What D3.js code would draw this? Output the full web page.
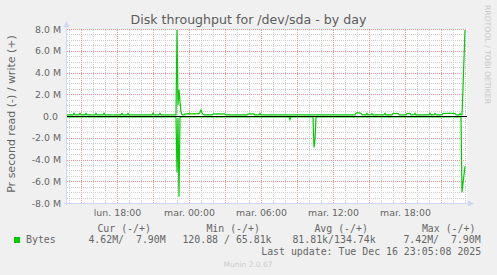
<!DOCTYPE html>
<html>
<head>
<meta charset="utf-8">
<script src="https://cdn.jsdelivr.net/npm/d3@7"></script>
<style>
html, body { margin: 0; padding: 0; background: #f0f0f0; }
svg { display: block; }
text { font-family: "DejaVu Sans", sans-serif; fill: #666; }
.mono { font-family: "DejaVu Sans Mono", monospace; white-space: pre; }
</style>
</head>
<body>
<svg width="497" height="275"></svg>
<script>
// tick labels (rrdtool / munin, french locale)
const timeLabels = ['lun. 18:00', 'mar. 00:00', 'mar. 06:00', 'mar. 12:00', 'mar. 18:00'];
const yTicks = [-8000, -6000, -4000, -2000, 0, 2000, 4000, 6000, 8000];
const yTickLabels = ['-8.0 M', '-6.0 M', '-4.0 M', '-2.0 M', '0.0 ', '2.0 M', '4.0 M', '6.0 M', '8.0 M'];

// 5 minute samples, kB/s
const writeKB = [
    110,100,95,105,120,100,90,260,110,100,95,105,100,250,100,95,110,100,105,240,
    100,95,110,105,100,90,100,110,105,250,100,95,100,110,100,105,95,260,100,110,
    100,95,105,110,100,95,90,100,105,110,100,95,100,105,110,250,100,95,100,105,
    110,240,100,95,105,100,110,100,95,100,105,100,110,95,100,105,100,95,110,100,
    100,105,95,100,110,100,260,105,100,95,100,110,100,250,100,95,105,100,110,100,
    105,100,95,110,100,105,100,95,100,110,7900,1000,2400,1300,400,120,100,110,200,180,
    200,190,210,200,195,205,200,210,190,200,205,210,200,350,550,300,150,120,110,100,
    105,100,110,95,100,105,180,200,190,170,200,180,190,200,180,170,190,200,180,110,
    100,105,95,100,110,100,95,105,100,110,100,95,105,100,110,100,95,100,105,110,
    105,180,200,190,170,200,190,180,110,100,105,95,100,240,100,105,110,100,95,100,
    105,100,110,95,100,105,100,110,100,95,105,100,110,100,95,105,100,110,100,105,
    100,95,105,100,110,100,95,100,105,110,100,95,105,100,110,100,95,105,100,110,
    100,105,95,100,110,100,105,100,95,100,110,105,100,95,105,100,110,100,95,105,
    100,110,105,95,100,105,110,100,95,105,100,110,100,105,95,100,110,100,105,100,
    95,105,110,100,105,100,95,110,100,270,280,290,280,270,250,110,100,105,95,100,
    240,100,105,95,110,230,100,105,100,95,110,100,105,100,95,105,100,110,240,100,
    105,100,95,110,100,105,230,240,220,230,240,220,110,100,95,105,100,110,100,105,
    230,220,240,230,105,100,95,110,240,100,105,100,110,95,100,105,100,110,100,95,
    105,100,110,240,100,105,95,100,230,110,100,105,95,100,110,100,240,230,250,240,
    230,250,240,260,230,240,250,230,240,110,100,105,110,230,110,120,2600,5300,7900
];
const readKB = [
    80,75,85,90,80,70,75,85,80,90,75,80,85,70,80,90,75,80,85,80,
    75,85,80,90,70,80,85,75,80,90,85,80,75,70,85,80,90,75,80,85,
    80,75,90,85,80,70,75,85,80,90,75,80,85,70,80,90,75,80,85,80,
    85,80,75,90,80,85,70,80,75,85,90,80,75,85,80,70,85,80,90,75,
    80,85,75,80,90,70,80,85,75,80,85,90,75,80,70,85,80,75,90,80,
    80,75,90,85,80,75,80,90,85,100,5200,200,7420,150,100,80,85,90,80,75,
    85,80,75,90,80,85,70,80,75,85,90,80,75,85,80,70,85,80,90,75,
    80,85,75,80,90,70,80,85,75,80,85,90,75,80,70,85,80,75,90,80,
    75,85,80,90,70,80,85,75,80,90,85,80,75,70,85,80,90,75,80,85,
    80,75,90,85,80,70,75,85,80,90,75,80,85,70,80,90,75,80,85,80,
    85,80,75,90,80,85,70,80,75,85,90,80,75,85,80,70,85,80,90,75,
    80,85,75,320,90,70,80,85,75,80,85,90,75,80,70,85,80,75,90,80,
    75,85,80,90,70,80,85,2900,2200,100,85,80,75,70,85,80,90,75,80,85,
    80,75,90,85,80,70,75,85,80,90,75,80,85,70,80,90,75,80,85,80,
    85,80,75,90,80,85,70,80,75,85,90,80,75,85,80,70,85,80,90,75,
    80,85,75,80,90,70,80,85,75,80,85,90,75,80,70,85,80,75,90,80,
    75,85,80,90,70,80,85,75,80,90,85,80,75,70,85,80,90,75,80,85,
    80,75,90,85,80,70,75,85,80,90,75,80,85,70,80,90,75,80,85,80,
    85,80,75,90,80,85,70,80,75,85,90,80,75,85,80,70,85,80,90,75,
    80,85,75,80,90,70,80,85,75,80,85,90,75,80,85,7000,6200,5400,4620
];

const legendHeads = ['Cur (-/+)', 'Min (-/+)', 'Avg (-/+)', 'Max (-/+)'];
const legendValues = ['4.62M/  7.90M', '120.88 / 65.81k', '81.81k/134.74k', '7.42M/  7.90M'];
const seriesName = 'Bytes';

const start = new Date(2025, 11, 15, 13, 50);
const step = 5 * 60 * 1000;
const end = new Date(+start + 400 * step);

const pLeft = 67, pRight = 467, pTop = 29, pBottom = 203;
const green = '#00cc00';

const svg = d3.select('svg');

const x = d3.scaleTime().domain([start, end]).range([pLeft, pRight]);
const y = d3.scaleLinear().domain([-8000, 8000]).range([pBottom, pTop]);

// canvas
svg.append('rect')
    .attr('x', pLeft).attr('y', pTop)
    .attr('width', pRight - pLeft).attr('height', pBottom - pTop)
    .attr('fill', '#fff');

// grids, minor first then major over it
function grid(color, xTicks, yVals) {
    const gx = svg.append('g').attr('transform', `translate(0,${pBottom})`)
        .call(d3.axisBottom(x).tickValues(xTicks).tickSize(-(pBottom - pTop)).tickFormat(''));
    const gy = svg.append('g').attr('transform', `translate(${pLeft},0)`)
        .call(d3.axisLeft(y).tickValues(yVals).tickSize(-(pRight - pLeft)).tickFormat(''));
    [gx, gy].forEach(g => {
        g.select('.domain').remove();
        g.selectAll('line')
            .attr('stroke', color)
            .attr('stroke-dasharray', '1,1')
            .attr('shape-rendering', 'crispEdges');
    });
}
grid('#cccccc', x.ticks(d3.timeHour.every(1)), d3.range(-8000, 8001, 500));
grid('#ee9494', x.ticks(d3.timeHour.every(3)), yTicks);

// tick labels
const xAxis = svg.append('g').attr('transform', `translate(0,${pBottom})`)
    .call(d3.axisBottom(x).tickValues(x.ticks(d3.timeHour.every(6)))
        .tickSize(0).tickPadding(6).tickFormat((d, i) => timeLabels[i]));
const yAxis = svg.append('g').attr('transform', `translate(${pLeft - 0.5},0)`)
    .call(d3.axisLeft(y).tickValues(yTicks)
        .tickSize(0).tickPadding(5.5).tickFormat((d, i) => yTickLabels[i]));
[xAxis, yAxis].forEach(g => {
    g.select('.domain').remove();
    g.attr('font-family', null).attr('font-size', null);
    g.selectAll('text')
        .style('font-size', '9.4px')
        .style('white-space', 'pre')
        .attr('fill', '#666');
});

// data lines
const line = d3.line()
    .x((d, i) => x(new Date(+start + i * step)))
    .y(d => y(d));

svg.append('path').datum(readKB.map(v => -v))
    .attr('d', line).attr('fill', 'none')
    .attr('stroke', green).attr('stroke-width', 1.2);
svg.append('path').datum(writeKB)
    .attr('d', line).attr('fill', 'none')
    .attr('stroke', green).attr('stroke-width', 1.2);

// zero rule
svg.append('line')
    .attr('x1', pLeft).attr('x2', pRight)
    .attr('y1', Math.round(y(0)) + 0.5).attr('y2', Math.round(y(0)) + 0.5)
    .attr('stroke', '#000').attr('shape-rendering', 'crispEdges');

// axes + arrows
const axisColor = '#cfd6f8';
svg.append('line')
    .attr('x1', pLeft - 0.5).attr('x2', pLeft - 0.5)
    .attr('y1', pBottom + 2).attr('y2', 24)
    .attr('stroke', axisColor).attr('shape-rendering', 'crispEdges');
svg.append('line')
    .attr('x1', pLeft - 3).attr('x2', pRight + 2)
    .attr('y1', pBottom + 0.5).attr('y2', pBottom + 0.5)
    .attr('stroke', axisColor).attr('shape-rendering', 'crispEdges');
svg.append('path')
    .attr('d', `M${pLeft - 3.5},27 L${pLeft - 0.5},21 L${pLeft + 2.5},27 Z`)
    .attr('fill', axisColor);
svg.append('path')
    .attr('d', `M${pRight + 1},${pBottom - 2.5} L${pRight + 7},${pBottom + 0.5} L${pRight + 1},${pBottom + 3.5} Z`)
    .attr('fill', axisColor);

// titles
svg.append('text')
    .attr('x', 248.5).attr('y', 24)
    .attr('text-anchor', 'middle')
    .style('font-size', '12.6px')
    .style('fill', '#5c5c5c')
    .text('Disk throughput for /dev/sda - by day');

svg.append('text')
    .attr('transform', 'translate(15,114) rotate(-90)')
    .attr('text-anchor', 'middle')
    .style('font-size', '11px')
    .text('Pr second read (-) / write (+)');

svg.append('text')
    .attr('transform', 'translate(485,5) rotate(90)')
    .style('font-size', '7.7px')
    .style('fill', '#c8c8c8')
    .text('RRDTOOL / TOBI OETIKER');

// legend
const headX = [98, 207, 315, 422.5];
const valX = [89, 183, 293, 404];
svg.selectAll('text.head').data(legendHeads).join('text')
    .attr('class', 'mono head')
    .attr('x', (d, i) => headX[i] - 0.6).attr('y', 231.5)
    .style('font-size', '9.9px')
    .text(d => d);

svg.append('rect')
    .attr('x', 14).attr('y', 237).attr('width', 6).attr('height', 6)
    .attr('fill', green);
svg.append('text')
    .attr('class', 'mono').attr('x', 26).attr('y', 243)
    .style('font-size', '9.9px')
    .text(seriesName);
svg.selectAll('text.val').data(legendValues).join('text')
    .attr('class', 'mono val')
    .attr('x', (d, i) => valX[i] - 0.6).attr('y', 243)
    .style('font-size', '9.9px')
    .text(d => d);

svg.append('text')
    .attr('class', 'mono').attr('x', 261.2).attr('y', 254.5)
    .style('font-size', '9.9px')
    .text('Last update: Tue Dec 16 23:05:08 2025');

svg.append('text')
    .attr('x', 248).attr('y', 267)
    .attr('text-anchor', 'middle')
    .style('font-size', '7.5px')
    .style('fill', '#cccccc')
    .text('Munin 2.0.67');
</script>
</body>
</html>
